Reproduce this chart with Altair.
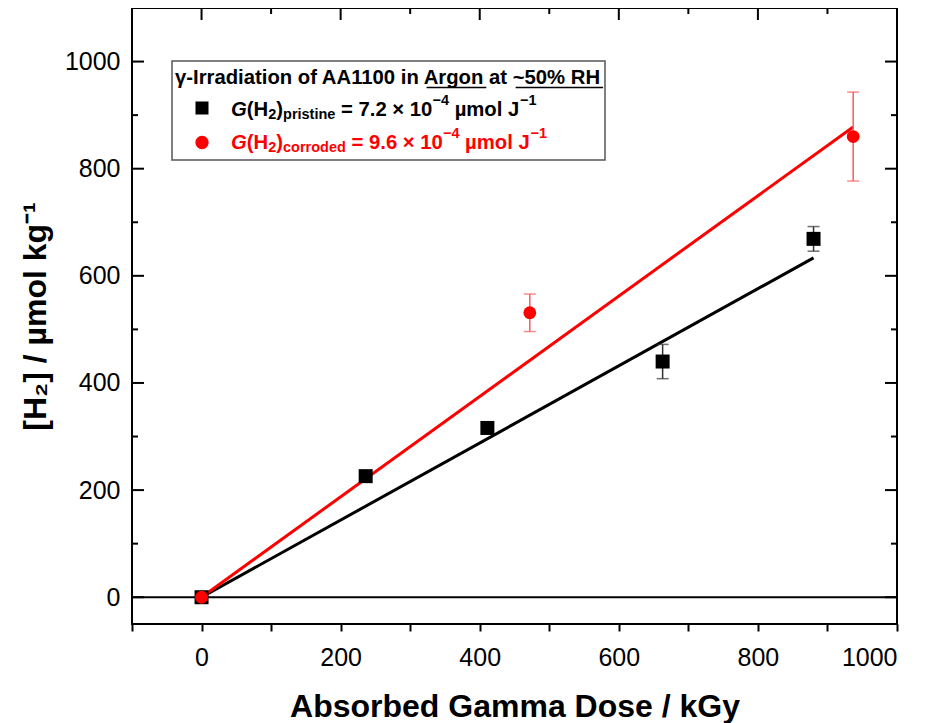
import altair as alt
import pandas as pd

# ---------------- data ----------------
black_dose = [0, 236, 411, 663, 880]
black_h2 = [0, 226, 316, 440, 669]
black_err = [0, 0, 0, 32, 23]

red_dose = [0, 472, 937]
red_h2 = [0, 531, 860]
red_err = [0, 35, 83]

fit_black_dose = [0, 880]
fit_black_h2 = [0, 633.6]
fit_red_dose = [0, 937]
fit_red_h2 = [0, 878]

x_major = [0, 200, 400, 600, 800, 1000]
x_minor = [-100, 100, 300, 500, 700, 900]
y_major = [0, 200, 400, 600, 800, 1000]
y_minor = [100, 300, 500, 700, 900]

title_line = "γ-Irradiation of AA1100 in Argon at ~50% RH"
underlined = ["Argon", "~50% RH"]
line_pristine = [("G", "main", True), ("(H", "main", False), ("2", "sub", False), (")", "main", False),
                 ("pristine", "sub", False), (" = 7.2 × 10", "main", False), ("−4", "sup", False),
                 (" µmol J", "main", False), ("−1", "sup", False)]
line_corroded = [("G", "main", True), ("(H", "main", False), ("2", "sub", False), (")", "main", False),
                 ("corroded", "sub", False), (" = 9.6 × 10", "main", False), ("−4", "sup", False),
                 (" µmol J", "main", False), ("−1", "sup", False)]

# ---------------- styling ----------------
W, H = 765, 616
FONT = "Liberation Sans"
RED = "#ff0000"
xs = alt.Scale(domain=[-100, 1000], nice=False, zero=False)
ys = alt.Scale(domain=[-50, 1100], nice=False, zero=False)

# Arial/Liberation Sans Bold advance widths (per 1000 em)
WID = {' ': 278, '(': 333, ')': 333, '-': 333, '.': 278, '/': 278, '=': 584, '~': 584, '%': 889,
       'A': 722, 'G': 778, 'H': 722, 'I': 278, 'J': 556, 'R': 722, 'a': 556, 'c': 556, 'd': 611,
       'e': 556, 'f': 333, 'g': 611, 'i': 278, 'k': 556, 'l': 278, 'm': 889, 'n': 611, 'o': 611,
       'p': 611, 'r': 389, 's': 556, 't': 333, 'y': 556, '×': 584, 'µ': 611, '−': 584, 'γ': 556}
for d in "0123456789":
    WID[d] = 556


def tw(s, size):
    return sum(WID.get(c, 556) for c in s) * size / 1000.0


one = pd.DataFrame({"k": [0]})

df_black = pd.DataFrame({"dose": black_dose, "h2": black_h2, "err": black_err})
df_black["lo"] = df_black["h2"] - df_black["err"]
df_black["hi"] = df_black["h2"] + df_black["err"]
df_black_e = df_black[df_black["err"] > 0]

df_red = pd.DataFrame({"dose": red_dose, "h2": red_h2, "err": red_err})
df_red["lo"] = df_red["h2"] - df_red["err"]
df_red["hi"] = df_red["h2"] + df_red["err"]
df_red_e = df_red[df_red["err"] > 0]

df_fit_b = pd.DataFrame({"dose": fit_black_dose, "h2": fit_black_h2})
df_fit_r = pd.DataFrame({"dose": fit_red_dose, "h2": fit_red_h2})

X_AX = alt.Axis(values=sorted(x_major + x_minor), labelExpr="datum.value % 200 === 0 ? datum.label : ''",
                format="d", title="Absorbed Gamma Dose / kGy", grid=False, domain=False,
                ticks=True, tickSize=7, tickWidth=2, tickColor="black", labelPadding=14,
                labelFontSize=25, labelColor="black", labelFont=FONT,
                titleFont=FONT, titleFontSize=32, titleFontWeight="bold", titleColor="black",
                titleX=382.5, titleY=92, titleBaseline="alphabetic", titleAlign="center")
Y_AX = alt.Axis(values=y_major, format="d", title="[H₂] / µmol kg⁻¹", grid=False, domain=False,
                ticks=False, labelPadding=12, labelFontSize=25, labelColor="black", labelFont=FONT,
                titleFont=FONT, titleFontSize=32, titleFontWeight="bold", titleColor="black",
                titleAngle=270, titleX=-87, titleY=308, titleBaseline="alphabetic", titleAlign="center")


def X(field):
    return alt.X(field, scale=xs, axis=X_AX)


def Y(field):
    return alt.Y(field, scale=ys, axis=Y_AX)


layers = []

# markers layer (carries both axes)
base_sq = alt.Chart(df_black).mark_point(shape="square", filled=True, color="black", size=196, opacity=1).encode(
    x=X("dose:Q"), y=Y("h2:Q"))

# zero line
layers.append(alt.Chart(pd.DataFrame({"h2": [0]})).mark_rule(color="black", strokeWidth=2).encode(
    y=Y("h2:Q")))

# inward ticks: top, left, right
for vals, ln in ((x_major, 12), (x_minor, 6)):
    layers.append(alt.Chart(pd.DataFrame({"v": vals})).mark_rule(color="black", strokeWidth=2).encode(
        x=X("v:Q"), y=alt.value(0), y2=alt.value(ln)))
for vals, ln in ((y_major, 12), (y_minor, 6)):
    layers.append(alt.Chart(pd.DataFrame({"v": vals})).mark_rule(color="black", strokeWidth=2).encode(
        y=Y("v:Q"), x=alt.value(0), x2=alt.value(ln)))
    layers.append(alt.Chart(pd.DataFrame({"v": vals})).mark_rule(color="black", strokeWidth=2).encode(
        y=Y("v:Q"), x=alt.value(W), x2=alt.value(W - ln)))

# fit lines
layers.append(alt.Chart(df_fit_b).mark_line(color="black", strokeWidth=3).encode(x=X("dose:Q"), y=Y("h2:Q")))
layers.append(alt.Chart(df_fit_r).mark_line(color=RED, strokeWidth=3).encode(x=X("dose:Q"), y=Y("h2:Q")))

# error bars
for dfe, col in ((df_black_e, "#333333"), (df_red_e, "#ff5a5a")):
    layers.append(alt.Chart(dfe).mark_rule(color=col, strokeWidth=1.5).encode(
        x=X("dose:Q"), y=Y("lo:Q"), y2="hi:Q"))
    for f in ("lo", "hi"):
        layers.append(alt.Chart(dfe).mark_tick(color=col, orient="horizontal", size=12, thickness=1.5).encode(
            x=X("dose:Q"), y=Y(f + ":Q")))

# markers
layers.append(base_sq)
layers.append(alt.Chart(df_red).mark_point(shape="circle", filled=True, color=RED, size=165, opacity=1).encode(
    x=X("dose:Q"), y=Y("h2:Q")))

# ---------------- legend box ----------------
BX0, BX1, BY0, BY1 = 40, 473, 53, 152
layers.append(alt.Chart(one).mark_rect(fill="white", stroke="#555555", strokeWidth=1.5).encode(
    x=alt.value(BX0), x2=alt.value(BX1), y=alt.value(BY0), y2=alt.value(BY1)))

MAIN, SUB, SUP = 20.3, 14.5, 14.5
L1X, L1Y = 43, 76
layers.append(alt.Chart(one).mark_text(font=FONT, fontSize=MAIN, fontWeight="bold", align="left",
                                        baseline="alphabetic", color="black").encode(
    x=alt.value(L1X), y=alt.value(L1Y), text=alt.value(title_line)))
for word in underlined:
    i = title_line.index(word)
    ux0 = L1X + tw(title_line[:i], MAIN)
    ux1 = ux0 + tw(word, MAIN)
    layers.append(alt.Chart(one).mark_rule(color="black", strokeWidth=1.5).encode(
        x=alt.value(ux0), x2=alt.value(ux1), y=alt.value(L1Y + 3.5)))


def rich_line(segs, x0, base, color):
    out = []
    x = x0
    for txt, kind, ital in segs:
        size = MAIN if kind == "main" else (SUB if kind == "sub" else SUP)
        dy = 0 if kind == "main" else (3 if kind == "sub" else -11)
        lead = len(txt) - len(txt.lstrip(" "))
        body = txt.strip(" ")
        xs_ = x + tw(" " * lead, size)
        out.append(alt.Chart(one).mark_text(font=FONT, fontSize=size, fontWeight="bold",
                                            fontStyle="italic" if ital else "normal",
                                            align="left", baseline="alphabetic", color=color).encode(
            x=alt.value(xs_), y=alt.value(base + dy), text=alt.value(body)))
        x += tw(txt, size)
    return out


layers += rich_line(line_pristine, 99, 108, "black")
layers += rich_line(line_corroded, 99, 141, RED)

layers.append(alt.Chart(one).mark_point(shape="square", filled=True, color="black", size=169, opacity=1).encode(
    x=alt.value(70), y=alt.value(100)))
layers.append(alt.Chart(one).mark_point(shape="circle", filled=True, color=RED, size=177, opacity=1).encode(
    x=alt.value(70), y=alt.value(134.5)))

chart = alt.layer(*layers).properties(
    width=W, height=H,
    autosize=alt.AutoSizeParams(type="none"),
    padding={"left": 124, "top": 0, "right": 20, "bottom": 100},
    background="white",
).configure_view(stroke="black", strokeWidth=2)

chart.save("out.html", embed_options={"renderer": "svg", "actions": False})
